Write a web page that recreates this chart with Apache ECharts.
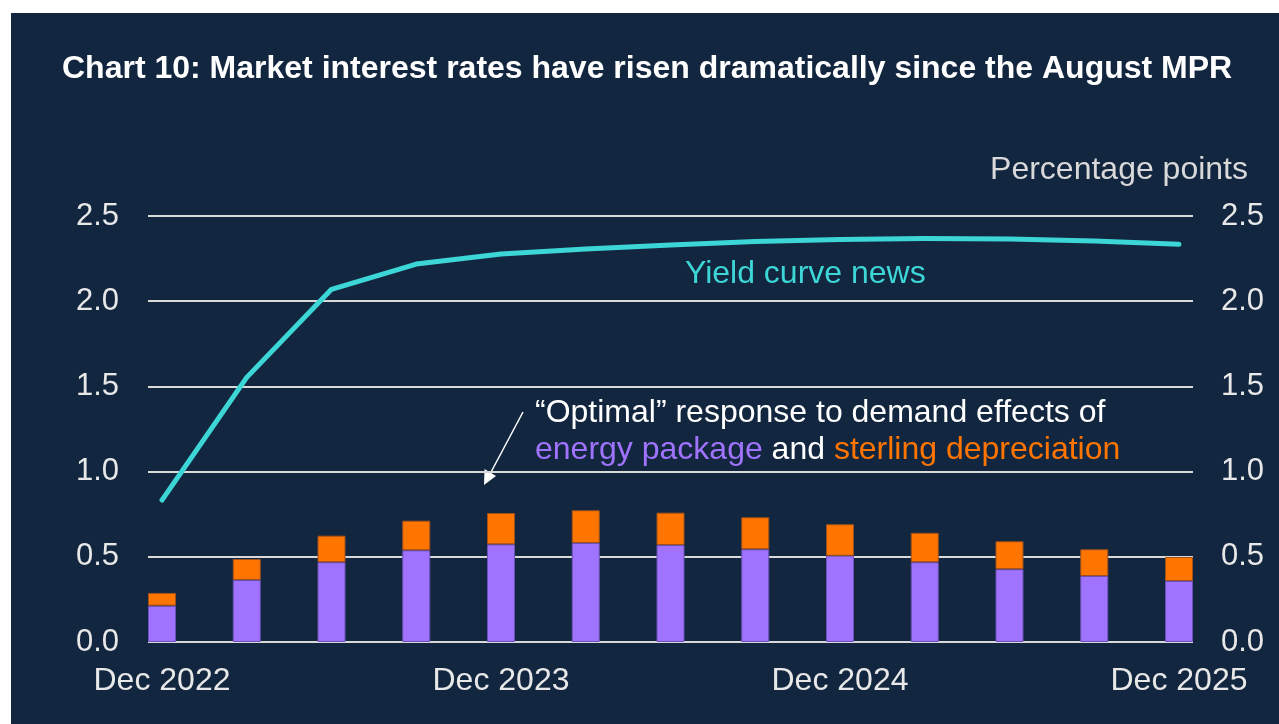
<!DOCTYPE html>
<html>
<head>
<meta charset="utf-8">
<script src="https://cdn.jsdelivr.net/npm/echarts@6/dist/echarts.min.js"></script>
<style>
html,body{margin:0;padding:0;background:#ffffff;width:1279px;height:724px;overflow:hidden;}
#bg{position:absolute;left:11px;top:13px;width:1268px;height:711px;background:#13263f;}
#chart{position:absolute;left:0;top:0;width:1279px;height:724px;}
</style>
</head>
<body>
<div id="bg"></div>
<div id="chart"></div>
<script>
// ---- data ----
var categories = ['Dec 2022','Mar 2023','Jun 2023','Sep 2023','Dec 2023','Mar 2024','Jun 2024','Sep 2024','Dec 2024','Mar 2025','Jun 2025','Sep 2025','Dec 2025'];
var yieldCurveNews = [0.833, 1.553, 2.07, 2.218, 2.277, 2.306, 2.33, 2.35, 2.362, 2.368, 2.365, 2.353, 2.334];
var energyPackage = [0.213, 0.364, 0.468, 0.538, 0.573, 0.581, 0.569, 0.544, 0.506, 0.468, 0.427, 0.387, 0.358];
var sterlingDepreciation = [0.075, 0.123, 0.156, 0.174, 0.184, 0.192, 0.190, 0.188, 0.185, 0.173, 0.164, 0.157, 0.141];
var yTicks = { min: 0, max: 2.5, interval: 0.5 };

var FONT = "'Liberation Sans', Arial, sans-serif";
var chart = echarts.init(document.getElementById('chart'), null, { renderer: 'canvas' });

var labelFmt = function (v) { return v.toFixed(1); };

var option = {
  backgroundColor: 'transparent',
  animation: false,
  title: {
    text: 'Chart 10: Market interest rates have risen dramatically since the August MPR',
    left: 57, top: 48,
    textStyle: { color: '#ffffff', fontFamily: FONT, fontWeight: 'bold', fontSize: 32 }
  },
  grid: [
    { left: 148, right: 86, top: 216, bottom: 82 },
    { left: 162, right: 100, top: 216, bottom: 82 }
  ],
  xAxis: [
    { gridIndex: 0, type: 'value', show: false, min: 0, max: 1 },
    {
      gridIndex: 1, type: 'category', data: categories, boundaryGap: false,
      axisLine: { show: false }, axisTick: { show: false },
      axisLabel: { interval: 3, color: '#e8e8e8', fontFamily: FONT, fontSize: 32, margin: 23 },
      splitLine: { show: false }
    }
  ],
  yAxis: [
    {
      gridIndex: 0, type: 'value', position: 'left', min: yTicks.min, max: yTicks.max, interval: yTicks.interval,
      axisLine: { show: false }, axisTick: { show: false },
      axisLabel: { color: '#e8e8e8', fontFamily: FONT, fontSize: 31, margin: 29, formatter: labelFmt },
      splitLine: { show: true, lineStyle: { color: '#d9d9d9', width: 2 } }
    },
    {
      gridIndex: 0, type: 'value', position: 'right', min: yTicks.min, max: yTicks.max, interval: yTicks.interval,
      axisLine: { show: false }, axisTick: { show: false },
      axisLabel: { color: '#e8e8e8', fontFamily: FONT, fontSize: 31, margin: 28, formatter: labelFmt },
      splitLine: { show: false }
    },
    {
      gridIndex: 1, type: 'value', min: yTicks.min, max: yTicks.max, interval: yTicks.interval, show: false
    }
  ],
  series: [
    {
      name: 'energy package', type: 'bar', stack: 'resp', xAxisIndex: 1, yAxisIndex: 2,
      data: energyPackage, barWidth: 28, z: 3,
      itemStyle: { color: '#a073ff', borderColor: '#6a52b8', borderWidth: 1 }
    },
    {
      name: 'sterling depreciation', type: 'bar', stack: 'resp', xAxisIndex: 1, yAxisIndex: 2,
      data: sterlingDepreciation, barWidth: 28, z: 3,
      itemStyle: { color: '#ff7500', borderColor: '#a2501a', borderWidth: 1 }
    },
    {
      name: 'Yield curve news', type: 'line', xAxisIndex: 1, yAxisIndex: 2,
      data: yieldCurveNews, smooth: false, symbol: 'none', z: 4,
      lineStyle: { color: '#3dd6d6', width: 5, cap: 'round', join: 'round' }
    }
  ],
  graphic: [
    {
      type: 'text', right: 31, top: 154,
      style: { text: 'Percentage points', fill: '#d9d9d9', font: '32px ' + FONT }
    },
    {
      type: 'text', left: 685, top: 258,
      style: { text: 'Yield curve news', fill: '#3dd6d6', font: '32px ' + FONT }
    },
    {
      type: 'text', left: 535, top: 397,
      style: { text: '\u201COptimal\u201D response to demand effects of', fill: '#ffffff', font: '32px ' + FONT }
    },
    {
      type: 'text', left: 535, top: 434,
      style: {
        text: '{p|energy package} {w|and} {o|sterling depreciation}',
        font: '32px ' + FONT,
        rich: {
          p: { fill: '#a073ff', fontSize: 32, fontFamily: FONT },
          w: { fill: '#ffffff', fontSize: 32, fontFamily: FONT },
          o: { fill: '#ff7500', fontSize: 32, fontFamily: FONT }
        }
      }
    },
    {
      type: 'line', shape: { x1: 523, y1: 412, x2: 490, y2: 474 },
      style: { stroke: '#ffffff', lineWidth: 1.5 }
    },
    {
      type: 'polygon', shape: { points: [[484, 485], [484.5, 469], [496, 476]] },
      style: { fill: '#ffffff' }
    }
  ]
};
chart.setOption(option);
</script>
</body>
</html>
